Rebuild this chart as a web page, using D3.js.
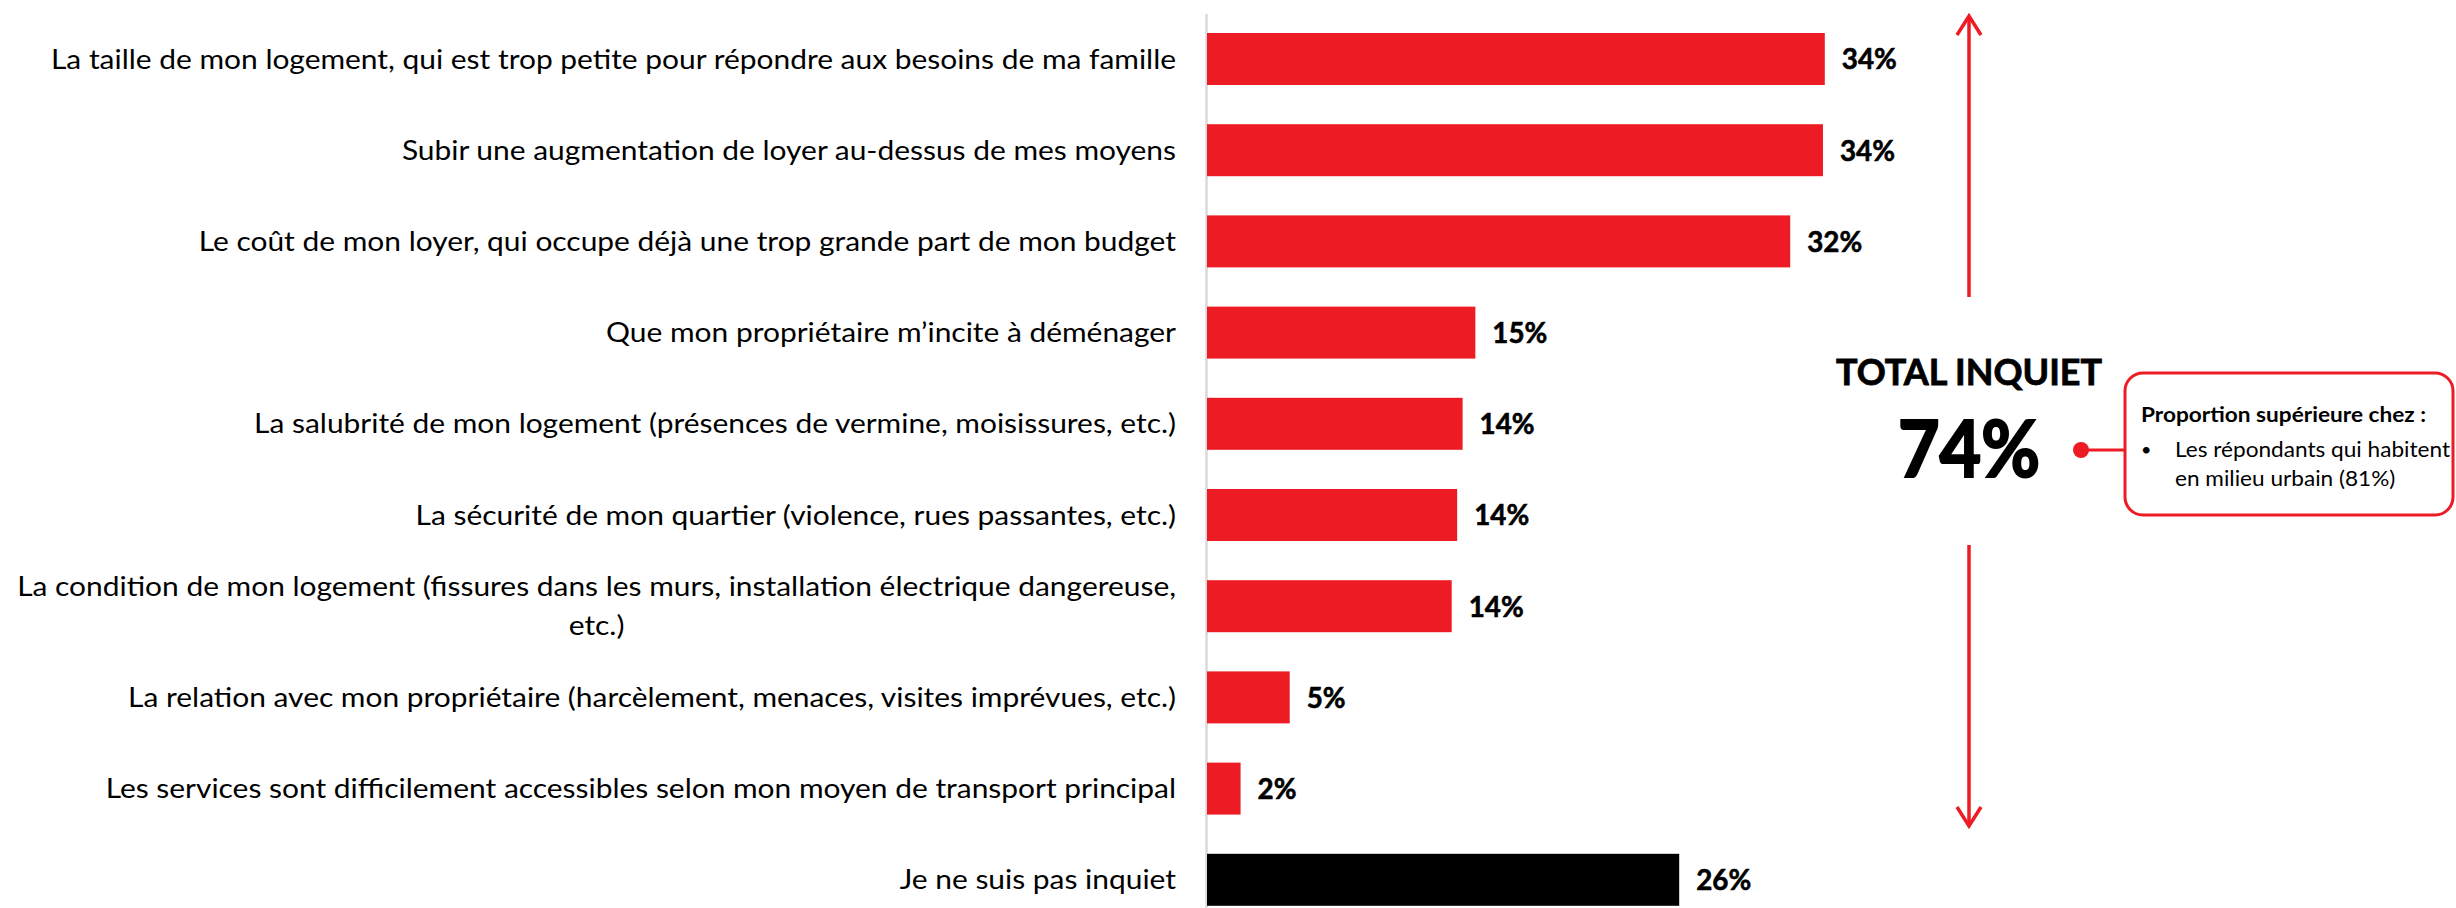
<!DOCTYPE html>
<html>
<head>
<meta charset="utf-8">
<script src="https://cdn.jsdelivr.net/npm/d3@7"></script>
<style>
  html, body { margin: 0; padding: 0; background: #ffffff; }
  svg { display: block; }
  text { font-family: Lato, "Open Sans", sans-serif; fill: #000; }
</style>
</head>
<body>
<svg id="chart" width="2456" height="908"></svg>
<script>
// ---------- data ----------
const categories = [
  "La taille de mon logement, qui est trop petite pour répondre aux besoins de ma famille",
  "Subir une augmentation de loyer au-dessus de mes moyens",
  "Le coût de mon loyer, qui occupe déjà une trop grande part de mon budget",
  "Que mon propriétaire m’incite à déménager",
  "La salubrité de mon logement (présences de vermine, moisissures, etc.)",
  "La sécurité de mon quartier (violence, rues passantes, etc.)",
  "La condition de mon logement (fissures dans les murs, installation électrique dangereuse, etc.)",
  "La relation avec mon propriétaire (harcèlement, menaces, visites imprévues, etc.)",
  "Les services sont difficilement accessibles selon mon moyen de transport principal",
  "Je ne suis pas inquiet"
];
const values = [34.0, 33.9, 32.1, 14.8, 14.1, 13.8, 13.5, 4.6, 1.9, 26.0];
const valueLabels = ["34%", "34%", "32%", "15%", "14%", "14%", "14%", "5%", "2%", "26%"];
const groups = ["inquiet","inquiet","inquiet","inquiet","inquiet","inquiet","inquiet","inquiet","inquiet","pas"];
const totalTitle = "TOTAL INQUIET";
const totalValue = "74%";
const boxTitle = "Proportion supérieure chez :";
const boxLines = ["Les répondants qui habitent", "en milieu urbain (81%)"];

// ---------- setup ----------
const RED = "#ED1C24";
const svg = d3.select("#chart");
const color = d3.scaleOrdinal().domain(["inquiet", "pas"]).range([RED, "#000000"]);

const x = d3.scaleLinear().domain([0, 40]).range([1206, 1206 + 40 * 18.2]);
const y = d3.scaleBand().domain(categories).range([13.4, 925.4])
  .paddingInner(0.43).paddingOuter(0.215);

function fit(sel, k) {
  sel.each(function () {
    const w = this.getComputedTextLength();
    d3.select(this).attr("textLength", w * k).attr("lengthAdjust", "spacingAndGlyphs");
  });
}
function kFor(text, size, weight, target) {
  const t = svg.append("text").attr("font-size", size).attr("font-weight", weight).text(text);
  const w = t.node().getComputedTextLength();
  t.remove();
  return target / w;
}

// axis (vertical line only)
const axis = svg.append("g").attr("transform", `translate(${x(0)},0)`)
  .call(d3.axisLeft(y).tickSize(0).tickFormat(""));
axis.select(".domain").attr("stroke", "#d9d9d9").attr("stroke-width", 2.5);

// bars
const data = categories.map((c, i) => ({ c, v: values[i], lab: valueLabels[i], g: groups[i] }));
svg.append("g").selectAll("rect").data(data).join("rect")
  .attr("x", x(0) + 1)
  .attr("y", d => y(d.c))
  .attr("width", d => x(d.v) - x(0) - 1)
  .attr("height", y.bandwidth())
  .attr("fill", d => color(d.g));

// value labels
const VAL_SIZE = 29;
const BOLD = 700;
const kTitle = kFor(totalTitle, 36, BOLD, 266);
const kVal = kFor("14%", VAL_SIZE, BOLD, 55);
svg.append("g").selectAll("text").data(data).join("text")
  .attr("x", d => x(d.v) + 17)
  .attr("y", d => y(d.c) + y.bandwidth() / 2 + VAL_SIZE * 0.717 / 2)
  .attr("font-size", VAL_SIZE).attr("font-weight", BOLD)
  .attr("stroke", "#000").attr("stroke-width", 0.6)
  .text(d => d.lab)
  .call(fit, kVal);

// category labels
const CAT_SIZE = 27;
const kCat = kFor(categories[0], CAT_SIZE, 400, 1125);
const labelRight = x(0) - 30;
const maxW = 1170;
const lineH = 39;
const catG = svg.append("g");
data.forEach(d => {
  const probe = catG.append("text").attr("font-size", CAT_SIZE);
  const words = d.c.split(" ");
  const lines = [];
  let cur = "";
  words.forEach(wd => {
    const test = cur ? cur + " " + wd : wd;
    probe.text(test);
    if (probe.node().getComputedTextLength() * kCat > maxW && cur) {
      lines.push(cur); cur = wd;
    } else cur = test;
  });
  lines.push(cur);
  probe.remove();
  const cy = y(d.c) + y.bandwidth() / 2;
  const capHalf = CAT_SIZE * 0.717 / 2;
  if (lines.length === 1) {
    catG.append("text").attr("x", labelRight).attr("y", cy + capHalf)
      .attr("text-anchor", "end").attr("font-size", CAT_SIZE)
      .text(lines[0]).call(fit, kCat);
  } else {
    const widths = lines.map(l => {
      const t = catG.append("text").attr("font-size", CAT_SIZE).text(l);
      const w = t.node().getComputedTextLength() * kCat;
      t.remove();
      return w;
    });
    const bw = d3.max(widths);
    const cx = labelRight - bw / 2;
    lines.forEach((l, i) => {
      catG.append("text").attr("x", cx)
        .attr("y", cy + capHalf + (i - (lines.length - 1) / 2) * lineH)
        .attr("text-anchor", "middle").attr("font-size", CAT_SIZE)
        .text(l).call(fit, kCat);
    });
  }
});

// ---------- right annotation ----------
const ax = 1969;
const arrowG = svg.append("g").attr("fill", "none").attr("stroke", RED)
  .attr("stroke-width", 3.5).attr("stroke-linejoin", "miter");
arrowG.append("path").attr("d", `M${ax},297 L${ax},17`);
arrowG.append("path").attr("d", `M${ax - 12},35 L${ax},16 L${ax + 12},35`);
arrowG.append("path").attr("d", `M${ax},545 L${ax},825`);
arrowG.append("path").attr("d", `M${ax - 12},807 L${ax},826 L${ax + 12},807`);

svg.append("text").attr("x", ax).attr("y", 385).attr("text-anchor", "middle")
  .attr("font-size", 36).attr("font-weight", BOLD)
  .attr("stroke", "#000").attr("stroke-width", 0.8)
  .text(totalTitle).call(fit, kTitle);

const kBig = kFor(totalValue, 78, BOLD, 142);
svg.append("text").attr("x", ax).attr("y", 477).attr("text-anchor", "middle")
  .attr("font-size", 78).attr("font-weight", BOLD)
  .attr("stroke", "#000").attr("stroke-width", 2.2)
  .text(totalValue).call(fit, kBig);

// connector + box
svg.append("line").attr("x1", 2081).attr("x2", 2125).attr("y1", 450).attr("y2", 450)
  .attr("stroke", RED).attr("stroke-width", 3);
svg.append("circle").attr("cx", 2081).attr("cy", 450).attr("r", 8).attr("fill", RED);
svg.append("rect").attr("x", 2125).attr("y", 373).attr("width", 328).attr("height", 142)
  .attr("rx", 18).attr("ry", 18).attr("fill", "#fff").attr("stroke", RED).attr("stroke-width", 3);

const kBoxT = kFor(boxTitle, 21.5, BOLD, 285);
svg.append("text").attr("x", 2141).attr("y", 422).attr("font-size", 21.5).attr("font-weight", BOLD)
  .text(boxTitle).call(fit, kBoxT);
svg.append("text").attr("x", 2141).attr("y", 456).attr("font-size", 18).text("•");
const kBoxL = kFor(boxLines[0], 21.5, 400, 275);
svg.append("g").selectAll("text").data(boxLines).join("text")
  .attr("x", 2175).attr("y", (d, i) => 457 + i * 28.5)
  .attr("font-size", 21.5).text(d => d).call(fit, kBoxL);
</script>
</body>
</html>
